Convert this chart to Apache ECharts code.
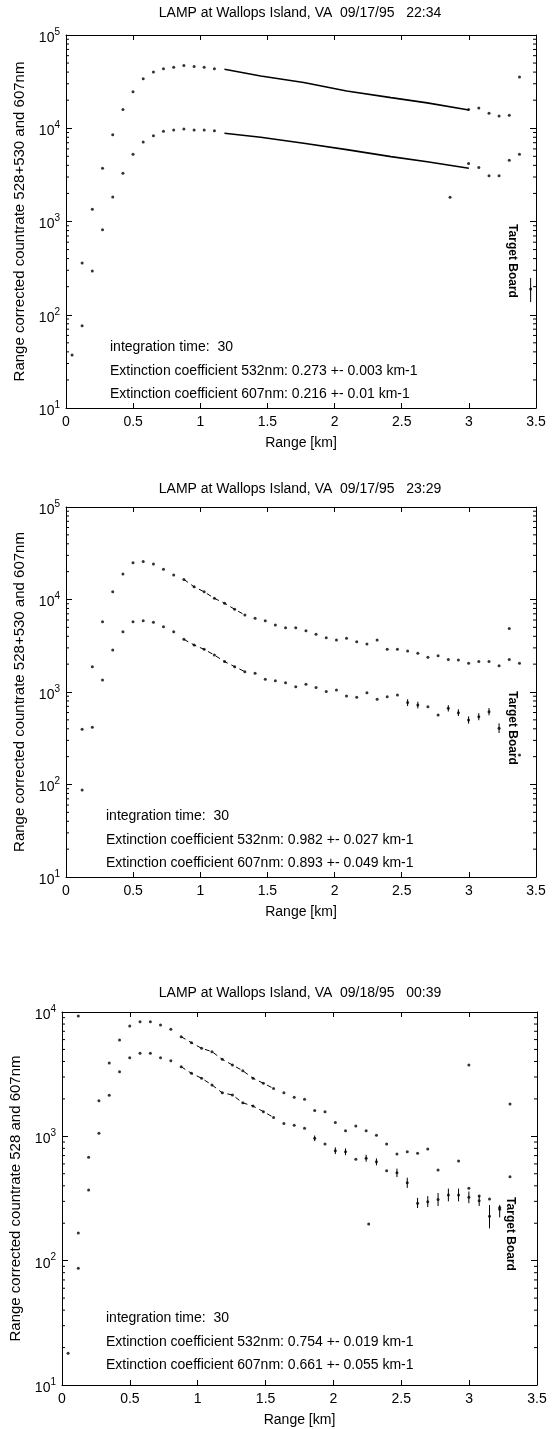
<!DOCTYPE html>
<html><head><meta charset="utf-8">
<script src="https://cdn.jsdelivr.net/npm/echarts@6/dist/echarts.min.js"></script>
<style>html,body{margin:0;padding:0;background:#fff}#c{width:553px;height:1429px}</style>
</head><body><div id="c"></div>
<script>
// Range bins [km]
const rangeKm = [0.045,0.12,0.196,0.272,0.348,0.424,0.499,0.575,0.651,0.726,0.802,0.878,0.954,1.029,1.105,1.181,1.256,1.332,1.408,1.484,1.559,1.635,1.711,1.787,1.862,1.938,2.014,2.089,2.165,2.241,2.317,2.392,2.468,2.544,2.62,2.695,2.771,2.847,2.922,2.998,3.074,3.15,3.225,3.301,3.377];
const xTicks = [0,0.5,1,1.5,2,2.5,3,3.5];

// Panel 1 (09/17/95 22:34)
const p1Upper = [37,359,1350,3730,8500,15900,24600,34000,40000,43500,45000,47000,46000,45000,43500,
  null,null,null,null,null,null,null,null,null,null,null,null,null,null,null,null,null,null,null,null,null,null,null,null,
  15900,16500,14500,13500,13800,35500];
const p1Lower = [null,76,294,815,1830,3300,5250,7100,8300,9300,9600,9800,9600,9600,9400,
  null,null,null,null,null,null,null,null,null,null,null,null,null,null,null,null,null,null,null,null,null,null,null,null,
  4200,3800,3100,3100,4550,5250];
const p1FitKm = [1.18,1.45,1.77,2.09,2.42,2.69,3.0];
const p1FitUpper = [42900,36300,30900,25100,21300,18700,15700];
const p1FitLower = [8830,8000,6900,5900,4960,4370,3730];
const p1Outliers = [[2.86,1820],[3.46,189]];
const p1Errors = [[3.46,137,248]];

// Panel 2 (09/17/95 23:29)
const p2Upper = [null,395,1880,5750,12100,18900,25000,25700,24200,21200,18400,16500,13700,12100,10300,9100,7840,6800,6270,5900,5300,4950,4950,4600,4210,3870,3650,3800,3500,3300,3650,2890,2890,2770,2620,2370,2470,2250,2220,2040,2130,2130,1920,2250,2040];
const p2Lower = [null,87,415,1350,2840,4490,5750,5900,5660,5080,4490,3710,3220,2890,2510,2130,1880,1660,1590,1370,1325,1260,1140,1210,1120,1010,1050,906,876,984,833,891,930,768,723,693,564,666,597,498,541,612,405,null,208];
const p2Outliers = [[3.301,4870]];
const p2Errors = [[2.544,705,835],[2.62,665,785],[2.847,615,720],[2.922,550,650],[2.998,455,545],[3.074,495,590],[3.15,560,670],[3.225,360,458]];

// Panel 3 (09/18/95 00:39)
const p3Upper = [null,167,680,1930,3890,5960,7710,8360,8360,7850,7250,6330,5660,5100,4800,4160,3750,3370,2930,2670,2430,2240,2060,1990,1610,1580,1290,1110,1210,1110,1020,867,721,752,730,791,536,null,632,382,331,313,268,473,null];
const p3Lower = [18,87,370,1060,2140,3310,4290,4650,4650,4290,4060,3630,3210,2930,2590,2240,2150,1860,1750,1580,1420,1270,1230,1160,964,867,766,752,653,665,625,529,509,423,289,298,311,337,337,323,303,228,259,null,null];
const p3Outliers = [[0.12,9290],[2.998,3750],[3.301,1820],[2.26,197]];
const p3Errors = [[1.862,915,1015],[2.014,720,815],[2.089,705,800],[2.241,625,710],[2.317,585,665],[2.468,470,550],[2.544,385,465],[2.62,265,320],[2.695,270,330],[2.771,275,350],[2.847,300,380],[2.922,300,380],[2.998,290,360],[3.074,275,335],[3.15,182,280],[3.225,223,280]];

const FONT = "'Liberation Sans', Arial, Helvetica, sans-serif";

const panels = [
  {title:'LAMP at Wallops Island, VA  09/17/95   22:34', ylabel:'Range corrected countrate 528+530 and 607nm',
   ymax:1e5, grid:{left:66, top:35, width:470, height:373},
   upper:p1Upper, lower:p1Lower, fit:{km:p1FitKm, up:p1FitUpper, lo:p1FitLower, dashed:false},
   outliers:p1Outliers, errors:p1Errors,
   texts:['integration time:  30','Extinction coefficient 532nm: 0.273 +- 0.003 km-1','Extinction coefficient 607nm: 0.216 +- 0.01 km-1'],
   textX:110, textY:[347,371,394], titleY:13, tb:[512,261]},
  {title:'LAMP at Wallops Island, VA  09/17/95   23:29', ylabel:'Range corrected countrate 528+530 and 607nm',
   ymax:1e5, grid:{left:66, top:507, width:470, height:370},
   upper:p2Upper, lower:p2Lower, fit:{from:11, to:17, dashed:true},
   outliers:p2Outliers, errors:p2Errors,
   texts:['integration time:  30','Extinction coefficient 532nm: 0.982 +- 0.027 km-1','Extinction coefficient 607nm: 0.893 +- 0.049 km-1'],
   textX:106, textY:[816,840,863], titleY:489, tb:[512,728]},
  {title:'LAMP at Wallops Island, VA  09/18/95   00:39', ylabel:'Range corrected countrate 528 and 607nm',
   ymax:1e4, grid:{left:61, top:1012, width:476, height:373},
   upper:p3Upper, lower:p3Lower, fit:{from:11, to:20, dashed:true},
   outliers:p3Outliers, errors:p3Errors,
   texts:['integration time:  30','Extinction coefficient 532nm: 0.754 +- 0.019 km-1','Extinction coefficient 607nm: 0.661 +- 0.055 km-1'],
   textX:106, textY:[1318,1342,1365], titleY:993, tb:[510,1234]}
];

function pairs(vals){ const out=[]; vals.forEach((v,i)=>{ if(v!=null) out.push([rangeKm[i], v]); }); return out; }
function pairsRange(vals,from,to){ const out=[]; for(let i=from;i<=to;i++){ if(vals[i]!=null) out.push([rangeKm[i], vals[i]]); } return out; }
function minorValues(max){ const out=[]; for(let d=10; d<max; d*=10){ for(let k=2;k<=9;k++) out.push(d*k); } return out; }

const grids=[], xAxes=[], yAxes=[], series=[], graphics=[];
const black='#000';
panels.forEach((p,i)=>{
  grids.push(Object.assign({containLabel:false}, p.grid));
  const axLine={show:true,onZero:false,lineStyle:{color:black,width:1}};
  xAxes.push({gridIndex:i,type:'value',min:0,max:3.5,interval:0.5,position:'bottom',
    axisLine:axLine,axisTick:{inside:true,length:5,lineStyle:{color:black}},
    axisLabel:{color:black,fontSize:14,fontFamily:FONT,margin:7,formatter:v=>String(v)},
    splitLine:{show:false},name:'Range [km]',nameLocation:'middle',nameGap:28,
    nameTextStyle:{color:black,fontSize:14,fontFamily:FONT}});
  xAxes.push({gridIndex:i,type:'value',min:0,max:3.5,interval:0.5,position:'top',
    axisLine:axLine,axisTick:{inside:true,length:5,lineStyle:{color:black}},
    axisLabel:{show:false},splitLine:{show:false}});
  yAxes.push({gridIndex:i,type:'log',logBase:10,min:10,max:p.ymax,position:'left',
    axisLine:axLine,axisTick:{inside:true,length:6,lineStyle:{color:black}},
    axisLabel:{margin:6,formatter:v=>'{b|10}{s|'+Math.round(Math.log10(v))+'}',
      rich:{b:{fontSize:14,fontFamily:FONT,color:black,padding:[6,0,0,0]},s:{fontSize:10,fontFamily:FONT,color:black,padding:[0,0,6,0]}}},
    splitLine:{show:false},name:p.ylabel,nameLocation:'middle',nameGap:39,nameRotate:90,
    nameTextStyle:{color:black,fontSize:15,fontFamily:FONT}});
  yAxes.push({gridIndex:i,type:'log',logBase:10,min:10,max:p.ymax,position:'right',
    axisLine:axLine,axisTick:{inside:true,length:6,lineStyle:{color:black}},
    axisLabel:{show:false},splitLine:{show:false}});
  const xi=2*i, yi=2*i;
  const sc=(data,size)=>({type:'scatter',xAxisIndex:xi,yAxisIndex:yi,data,symbol:'circle',symbolSize:size,
    itemStyle:{color:black},silent:true,animation:false});
  series.push(sc(pairs(p.upper),3));
  series.push(sc(pairs(p.lower),3));
  series.push(sc(p.outliers,3));
  // fit-range lines
  let fu, fl;
  if(p.fit.km){ fu=p.fit.km.map((k,j)=>[k,p.fit.up[j]]); fl=p.fit.km.map((k,j)=>[k,p.fit.lo[j]]); }
  else { fu=pairsRange(p.upper,p.fit.from,p.fit.to); fl=pairsRange(p.lower,p.fit.from,p.fit.to); }
  [fu,fl].forEach(d=>series.push({type:'line',xAxisIndex:xi,yAxisIndex:yi,data:d,showSymbol:false,silent:true,animation:false,
    lineStyle:{color:black,width:p.fit.dashed?1:1.6,type:p.fit.dashed?[5,4]:'solid'}}));
  // error bars
  series.push({type:'custom',xAxisIndex:xi,yAxisIndex:yi,data:p.errors,silent:true,animation:false,
    encode:{x:0,y:[1,2]},
    renderItem:(params,api)=>{ const a=api.coord([api.value(0),api.value(1)]), b=api.coord([api.value(0),api.value(2)]);
      return {type:'line',shape:{x1:a[0],y1:a[1],x2:b[0],y2:b[1]},style:{stroke:black,lineWidth:1}}; }});
  // minor log ticks on left and right edges
  series.push({type:'custom',xAxisIndex:xi,yAxisIndex:yi,data:minorValues(p.ymax).map(v=>[0,v]),silent:true,animation:false,
    renderItem:(params,api)=>{ const v=api.value(1); const l=api.coord([0,v]), r=api.coord([3.5,v]);
      return {type:'group',children:[
        {type:'line',shape:{x1:l[0],y1:l[1],x2:l[0]+3,y2:l[1]},style:{stroke:black,lineWidth:1}},
        {type:'line',shape:{x1:r[0]-3,y1:r[1],x2:r[0],y2:r[1]},style:{stroke:black,lineWidth:1}}]}; }});
  // texts
  graphics.push({type:'text',x:300,y:p.titleY,style:{text:p.title,fill:black,font:'14px '+FONT,textAlign:'center',textVerticalAlign:'middle'}});
  p.texts.forEach((t,j)=>graphics.push({type:'text',x:p.textX,y:p.textY[j],
    style:{text:t,fill:black,font:'14px '+FONT,textAlign:'left',textVerticalAlign:'middle'}}));
  graphics.push({type:'text',x:p.tb[0],y:p.tb[1],rotation:-Math.PI/2,
    style:{text:'Target Board',fill:black,font:'bold 12px '+FONT,textAlign:'center',textVerticalAlign:'middle'}});
});

const chart = echarts.init(document.getElementById('c'), null, {renderer:'canvas'});
chart.setOption({animation:false,backgroundColor:'#fff',grid:grids,xAxis:xAxes,yAxis:yAxes,series:series,graphic:graphics});
</script></body></html>
